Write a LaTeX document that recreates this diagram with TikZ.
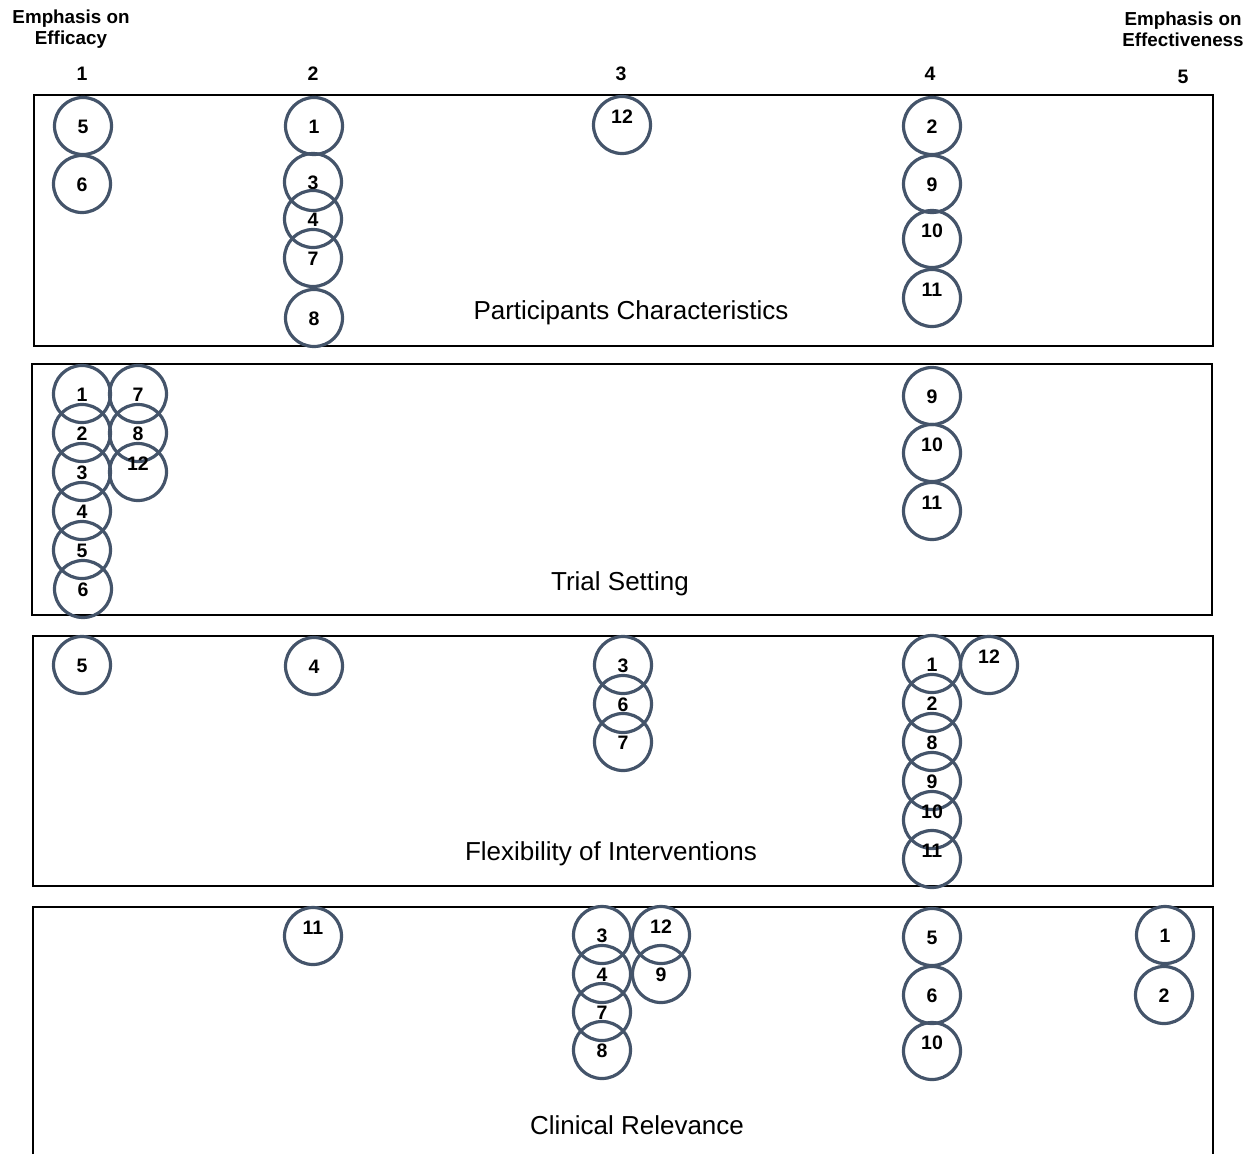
\documentclass[tikz,border=0pt]{standalone}
\usepackage{fontspec}
\setmainfont{Liberation Sans}
\begin{document}
\begin{tikzpicture}[x=1pt,y=-1pt,
  ring/.style={circle,draw=ringblue,line width=3.2pt,minimum size=57pt,inner sep=0pt},
  num/.style={font=\fontsize{19.5}{19.5}\selectfont\bfseries,inner sep=0pt},
  head/.style={font=\fontsize{18.8}{21}\selectfont\bfseries,align=center,inner sep=0pt},
  panel/.style={draw=black,line width=2pt},
  title/.style={font=\fontsize{26}{26}\selectfont,inner sep=0pt}]
\definecolor{ringblue}{HTML}{44546A}
\useasboundingbox (0,0) rectangle (1257,1154);
% a numbered ring: name, position, number
\newcommand\ringdot[3]{\node[ring] (#1) at (#2) {};\node[num] at ([yshift=-0.5pt]#1.center) {#3};}
\newcommand\ringdotw[3]{\node[ring] (#1) at (#2) {};\node[num] at ([yshift=8pt]#1.center) {#3};}

% scale headings
\node[head] (hl) at (71,29) {Emphasis on\\Efficacy};
\node[head] (hr) at (1183,29) {Emphasis on\\Effectiveness};
\node[num] (c1) at (82,74) {1};
\node[num] (c2) at (313,74) {2};
\node[num] (c3) at (621,74) {3};
\node[num] (c4) at (930,74) {4};
\node[num] (c5) at (1183,77) {5};

% panels
\draw[panel] (34,95) rectangle (1213,346);
\draw[panel] (32,364) rectangle (1212,615);
\draw[panel] (33,636) rectangle (1213,886);
\draw[panel] (33,1154) -- (33,907) -- (1213,907) -- (1213,1154);

\node[title] (t1) at (631,313) {Participants Characteristics};
\node[title] (t2) at (620,584) {Trial Setting};
\node[title] (t3) at (611,854) {Flexibility of Interventions};
\node[title] (t4) at (637,1125) {Clinical Relevance};

% Participants Characteristics
\ringdot{a5}{83,126}{5}
\ringdot{a6}{82,184}{6}
\ringdot{a1}{314,126}{1}
\ringdot{a3}{313,182}{3}
\ringdot{a4}{313,219}{4}
\ringdot{a7}{313,258}{7}
\ringdot{a8}{314,318}{8}
\ringdotw{a12}{622,125}{12}
\ringdot{a2}{932,126}{2}
\ringdot{a9}{932,184}{9}
\ringdotw{a10}{932,239}{10}
\ringdotw{a11}{932,298}{11}

% Trial Setting
\ringdot{b1}{82,394}{1}
\ringdot{b2}{82,433}{2}
\ringdot{b3}{82,472}{3}
\ringdot{b4}{82,511}{4}
\ringdot{b5}{82,550}{5}
\ringdot{b6}{83,589}{6}
\ringdot{b7}{138,394}{7}
\ringdot{b8}{138,433}{8}
\ringdotw{b12}{138,472}{12}
\ringdot{b9}{932,396}{9}
\ringdotw{b10}{932,453}{10}
\ringdotw{b11}{932,511}{11}

% Flexibility of Interventions
\ringdot{f5}{82,665}{5}
\ringdot{f4}{314,666}{4}
\ringdot{f3}{623,665}{3}
\ringdot{f6}{623,704}{6}
\ringdot{f7}{623,742}{7}
\ringdot{f1}{932,664}{1}
\ringdot{f2}{932,703}{2}
\ringdot{f8}{932,742}{8}
\ringdot{f9}{932,781}{9}
\ringdotw{f10}{932,820}{10}
\ringdotw{f11}{932,859}{11}
\ringdotw{f12}{989,665}{12}

% Clinical Relevance
\ringdotw{r11}{313,936}{11}
\ringdot{r3}{602,935}{3}
\ringdot{r4}{602,974}{4}
\ringdot{r7}{602,1012}{7}
\ringdot{r8}{602,1050}{8}
\ringdotw{r12}{661,935}{12}
\ringdot{r9}{661,974}{9}
\ringdot{r5}{932,937}{5}
\ringdot{r6}{932,995}{6}
\ringdotw{r10}{932,1051}{10}
\ringdot{r1}{1165,935}{1}
\ringdot{r2}{1164,995}{2}
\end{tikzpicture}
\end{document}
